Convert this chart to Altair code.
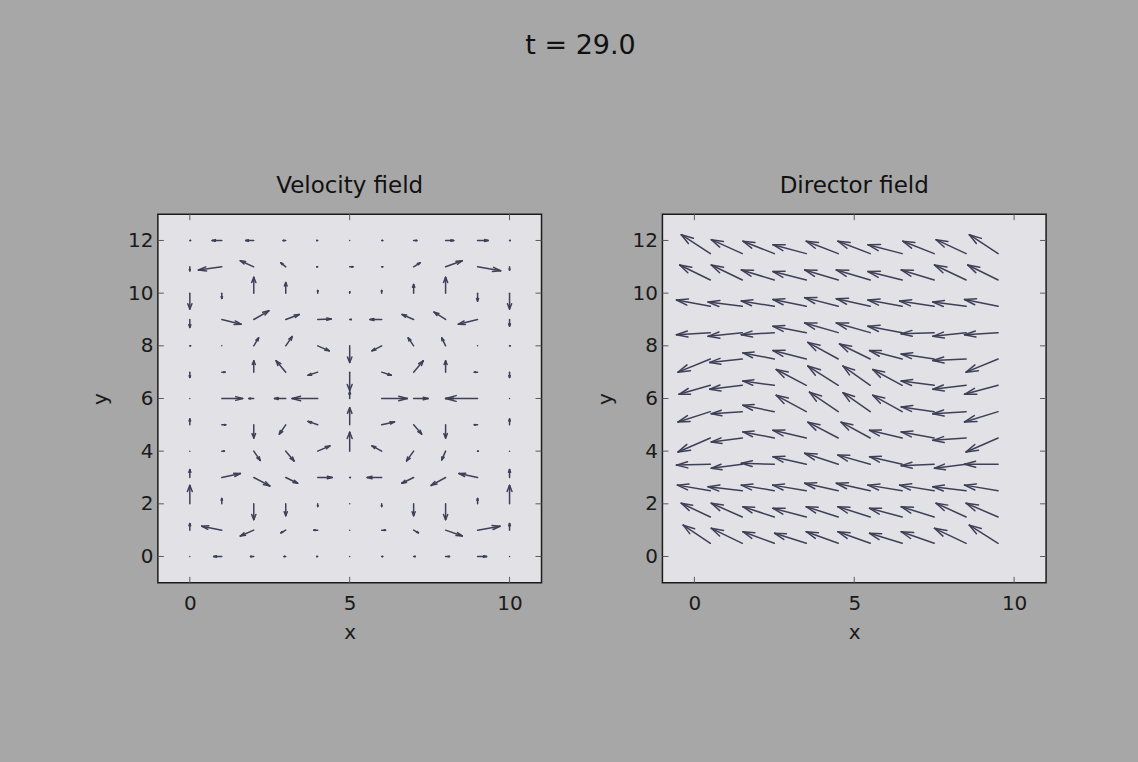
import altair as alt
import pandas as pd

# ---------------- data ----------------
# Velocity field: grid x = 0..10, y = 12..0 (rows listed top to bottom)
vel_x = [0, 1, 2, 3, 4, 5, 6, 7, 8, 9, 10]
vel_y = [12, 11, 10, 9, 8, 7, 6, 5, 4, 3, 2, 1, 0]
vel_u = [
    [0.02, -0.30, -0.25, -0.08, -0.03, 0.00, 0.03, 0.10, 0.25, 0.33, 0.02],
    [0.00, -0.73, -0.42, -0.15, -0.03, 0.10, 0.03, 0.20, 0.52, 0.72, 0.00],
    [0.00, 0.00, 0.00, 0.00, 0.00, 0.00, 0.00, 0.00, 0.00, 0.00, 0.00],
    [0.00, 0.60, 0.47, 0.42, 0.42, 0.05, -0.36, -0.36, -0.36, -0.60, 0.00],
    [0.02, 0.00, 0.15, 0.20, 0.36, 0.00, -0.30, -0.17, -0.12, 0.00, 0.02],
    [0.00, 0.10, 0.00, -0.30, -0.30, 0.00, 0.30, 0.30, 0.00, -0.10, 0.00],
    [0.00, 0.65, -0.15, -0.35, -0.80, 0.00, 0.80, 0.45, 0.25, -1.00, 0.00],
    [0.00, 0.12, 0.00, -0.20, -0.30, 0.00, 0.40, 0.25, 0.00, -0.10, 0.00],
    [0.00, 0.08, 0.20, 0.26, 0.38, 0.00, -0.30, -0.22, -0.12, 0.02, 0.00],
    [0.00, 0.58, 0.50, 0.37, 0.45, 0.02, -0.45, -0.37, -0.45, -0.58, 0.00],
    [0.00, 0.00, 0.00, 0.00, 0.00, 0.00, 0.00, 0.00, 0.00, 0.00, 0.00],
    [0.00, -0.63, -0.42, -0.15, -0.12, 0.00, 0.12, 0.15, 0.52, 0.70, 0.00],
    [0.00, -0.25, -0.10, -0.05, -0.03, 0.00, 0.03, 0.05, 0.12, 0.28, 0.00],
]
vel_v = [
    [0.00, 0.00, 0.00, 0.00, 0.00, 0.00, 0.00, 0.00, 0.00, 0.00, 0.00],
    [-0.15, -0.12, 0.23, 0.15, 0.00, 0.00, 0.00, 0.15, 0.23, -0.15, -0.12],
    [-0.60, -0.20, 0.60, 0.40, 0.10, 0.05, 0.10, 0.33, 0.60, -0.30, -0.60],
    [-0.30, -0.18, 0.33, 0.19, 0.02, 0.00, 0.00, 0.19, 0.28, -0.18, -0.25],
    [0.00, 0.00, 0.30, 0.35, -0.19, -0.63, -0.19, 0.30, 0.30, 0.00, 0.00],
    [-0.20, 0.00, 0.43, 0.43, -0.12, -0.70, -0.12, 0.43, 0.43, 0.00, -0.20],
    [0.00, 0.00, 0.00, 0.00, 0.00, 0.25, 0.00, 0.00, 0.00, 0.00, 0.00],
    [0.22, 0.00, -0.50, -0.35, 0.13, 0.65, 0.11, -0.35, -0.50, 0.00, 0.22],
    [0.00, 0.00, -0.35, -0.37, 0.20, 0.72, 0.20, -0.37, -0.33, 0.00, 0.00],
    [0.30, 0.15, -0.32, -0.22, 0.00, 0.00, 0.00, -0.22, -0.30, 0.15, 0.30],
    [0.70, 0.20, -0.60, -0.45, -0.10, 0.00, -0.10, -0.45, -0.60, 0.20, 0.70],
    [0.25, 0.15, -0.22, -0.10, 0.00, 0.00, 0.00, -0.10, -0.22, 0.15, 0.25],
    [0.00, 0.00, 0.00, 0.00, 0.00, 0.00, 0.00, 0.00, 0.00, 0.00, 0.00],
]

# Director field: tails at cell centres x = 0.5..9.5, y = 11.5..0.5
dir_x = [0.5, 1.5, 2.5, 3.5, 4.5, 5.5, 6.5, 7.5, 8.5, 9.5]
dir_y = [11.5, 10.5, 9.5, 8.5, 7.5, 6.5, 5.5, 4.5, 3.5, 2.5, 1.5, 0.5]
dir_u = [
    [-0.91, -0.97, -0.98, -1.04, -1.00, -1.01, -1.07, -0.98, -0.94, -0.90],
    [-0.96, -0.97, -1.03, -1.04, -1.05, -1.06, -1.07, -1.03, -0.99, -0.95],
    [-1.06, -1.07, -1.03, -1.04, -1.05, -1.06, -1.07, -1.08, -1.04, -1.05],
    [-1.06, -1.07, -1.03, -1.04, -1.05, -1.06, -1.07, -1.03, -1.04, -1.05],
    [-1.01, -1.02, -0.98, -1.04, -0.95, -0.96, -1.02, -1.03, -1.04, -1.00],
    [-0.98, -1.02, -0.98, -0.94, -0.95, -0.85, -0.92, -1.03, -1.04, -1.05],
    [-1.01, -0.97, -0.98, -0.94, -0.90, -0.85, -0.92, -1.03, -1.04, -1.05],
    [-1.01, -0.97, -0.98, -1.04, -0.95, -0.91, -1.02, -1.03, -1.04, -1.00],
    [-1.06, -0.97, -1.03, -1.04, -1.05, -1.01, -1.02, -1.03, -0.99, -1.05],
    [-1.03, -1.07, -1.03, -1.05, -1.05, -1.06, -1.07, -1.08, -1.04, -1.05],
    [-0.91, -0.97, -0.98, -1.04, -1.00, -1.01, -1.02, -1.03, -0.94, -1.00],
    [-0.85, -0.97, -0.98, -0.99, -1.00, -1.01, -1.02, -1.03, -0.99, -0.90],
]
dir_v = [
    [0.72, 0.53, 0.47, 0.34, 0.47, 0.47, 0.34, 0.47, 0.53, 0.72],
    [0.57, 0.57, 0.38, 0.32, 0.38, 0.38, 0.32, 0.38, 0.57, 0.57],
    [0.24, 0.16, 0.20, 0.26, 0.33, 0.29, 0.24, 0.20, 0.16, 0.26],
    [-0.08, -0.14, -0.08, 0.24, 0.37, 0.37, 0.24, -0.04, -0.14, -0.08],
    [-0.50, -0.13, 0.23, 0.32, 0.63, 0.57, 0.32, 0.19, -0.06, -0.50],
    [-0.34, -0.15, 0.16, 0.60, 0.73, 0.73, 0.60, 0.16, -0.15, -0.34],
    [-0.39, -0.08, 0.24, 0.62, 0.74, 0.72, 0.62, 0.18, -0.08, -0.39],
    [-0.53, -0.15, 0.23, 0.29, 0.60, 0.60, 0.29, 0.23, -0.09, -0.53],
    [-0.03, -0.15, 0.04, 0.29, 0.42, 0.35, 0.29, -0.05, -0.15, 0.00],
    [0.21, 0.15, 0.21, 0.21, 0.28, 0.28, 0.21, 0.21, 0.15, 0.21],
    [0.52, 0.52, 0.39, 0.33, 0.39, 0.39, 0.33, 0.39, 0.52, 0.52],
    [0.69, 0.57, 0.44, 0.38, 0.44, 0.44, 0.38, 0.44, 0.57, 0.69],
]

x_ticks = [0, 5, 10]
y_ticks = [0, 2, 4, 6, 8, 10, 12]
main_title = "t = 29.0"
titles = ["Velocity field", "Director field"]

# ---------------- build quiver segments (MATLAB-style barbs) ----------------
ALPHA, BETA = 0.33, 0.33


def quiver_segments(xs, ys, U, V):
    rows = []
    for j, yv in enumerate(ys):
        for i, xv in enumerate(xs):
            u, v = U[j][i], V[j][i]
            tx, ty = xv + u, yv + v
            rows.append((xv, yv, tx, ty))
            if abs(u) + abs(v) > 1e-9:
                rows.append((tx, ty, tx - ALPHA * (u + BETA * v), ty - ALPHA * (v - BETA * u)))
                rows.append((tx, ty, tx - ALPHA * (u - BETA * v), ty - ALPHA * (v + BETA * u)))
    return pd.DataFrame(rows, columns=["x", "y", "x2", "y2"])


W, H = 384, 369
FONT = "DejaVu Sans"
xs = alt.Scale(domain=[-1, 11], nice=False, zero=False)
ys = alt.Scale(domain=[-1, 13], nice=False, zero=False)
ARROW = "#3e4058"
TICK = "#5a5a5a"


def panel(df, title):
    arrows = alt.Chart(df).mark_rule(clip=True, strokeCap="round", strokeWidth=1.5, color=ARROW).encode(
        x=alt.X("x:Q", scale=xs, axis=alt.Axis(values=x_ticks, title="x", labelPadding=11, titlePadding=9)),
        y=alt.Y("y:Q", scale=ys, axis=alt.Axis(values=y_ticks, title="y", labelPadding=5, titlePadding=17)),
        x2="x2:Q",
        y2="y2:Q",
    )
    xt = pd.DataFrame({"t": x_ticks})
    yt = pd.DataFrame({"t": y_ticks})
    tb = alt.Chart(xt).mark_rule(color=TICK, strokeWidth=1).encode(x=alt.X("t:Q", scale=xs), y=alt.value(H), y2=alt.value(H - 6))
    tt = alt.Chart(xt).mark_rule(color=TICK, strokeWidth=1).encode(x=alt.X("t:Q", scale=xs), y=alt.value(0), y2=alt.value(6))
    tl = alt.Chart(yt).mark_rule(color=TICK, strokeWidth=1).encode(y=alt.Y("t:Q", scale=ys), x=alt.value(0), x2=alt.value(6))
    tr = alt.Chart(yt).mark_rule(color=TICK, strokeWidth=1).encode(y=alt.Y("t:Q", scale=ys), x=alt.value(W), x2=alt.value(W - 6))
    return alt.layer(arrows, tb, tt, tl, tr).properties(
        width=W,
        height=H,
        title=alt.TitleParams(title, fontSize=23, font=FONT, fontWeight="normal", color="#111111", offset=16, anchor="middle"),
    )


vel_df = quiver_segments(vel_x, vel_y, vel_u, vel_v)
dir_df = quiver_segments(dir_x, dir_y, dir_u, dir_v)

chart = (
    alt.hconcat(panel(vel_df, titles[0]), panel(dir_df, titles[1]), spacing=50)
    .properties(
        title=alt.TitleParams(main_title, fontSize=27, font=FONT, fontWeight="normal", color="#111111", anchor="middle", dx=12, offset=114),
        padding={"left": 89, "top": 31, "right": 90, "bottom": 119},
        background="#a7a7a7",
    )
    .configure_view(fill="#e2e1e6", stroke="#1c1c1c", strokeWidth=1.5)
    .configure_axis(
        domain=False,
        ticks=False,
        grid=False,
        labelFont=FONT,
        labelFontSize=20,
        labelColor="#1a1a1a",
        titleFont=FONT,
        titleFontSize=20,
        titleFontWeight="normal",
        titleColor="#1a1a1a",
    )
)

chart.save("out.html", embed_options={"renderer": "svg", "actions": False})
